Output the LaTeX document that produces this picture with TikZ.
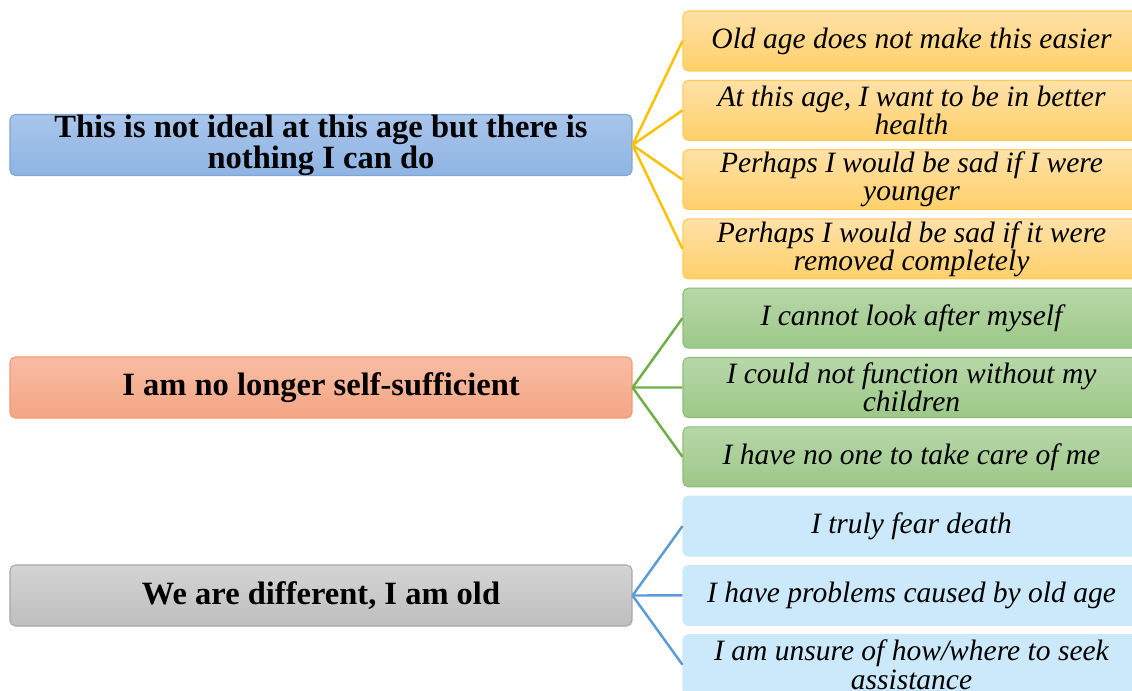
\documentclass[tikz,border=0pt]{standalone}
\usepackage{fontspec}
\setmainfont{Liberation Serif}
\usetikzlibrary{positioning}

\definecolor{themeblueA}{HTML}{A9C5EB}
\definecolor{themeblueB}{HTML}{8EB4E3}
\definecolor{themeblueD}{HTML}{7FA6D6}
\definecolor{salmonA}{HTML}{F8BDA5}
\definecolor{salmonB}{HTML}{F4A583}
\definecolor{salmonD}{HTML}{F19A74}
\definecolor{greyA}{HTML}{D4D4D4}
\definecolor{greyB}{HTML}{BEBEBE}
\definecolor{greyD}{HTML}{A8A8A8}
\definecolor{yellowA}{HTML}{FFE1A8}
\definecolor{yellowB}{HTML}{FFD06A}
\definecolor{yellowD}{HTML}{FFCC55}
\definecolor{greenA}{HTML}{B7D7A8}
\definecolor{greenB}{HTML}{9DC888}
\definecolor{greenD}{HTML}{8DBE78}
\definecolor{skyfill}{HTML}{CCE9FC}
\definecolor{yellowline}{HTML}{FFC000}
\definecolor{greenline}{HTML}{70AD47}
\definecolor{blueline}{HTML}{5B9BD5}

\begin{document}
\begin{tikzpicture}[node distance = 1.386cm,
  theme/.style = {rectangle, rounded corners=3pt, minimum width=12.44cm, minimum height=1.22cm,
    inner sep=0pt, align=center, line width=0.6pt, font=\bfseries\fontsize{18.5}{17.5}\selectfont},
  quote/.style = {rectangle, rounded corners=3pt, minimum width=9.14cm, minimum height=1.2cm,
    inner sep=0pt, align=center, line width=0.6pt, font=\itshape\fontsize{16.8}{16}\selectfont},
  yquote/.style = {quote, draw=yellowD, top color=yellowA, bottom color=yellowB},
  gquote/.style = {quote, draw=greenD, top color=greenA, bottom color=greenB},
  bquote/.style = {quote, draw=skyfill, fill=skyfill},
  link/.style = {line width=1.4pt}]

  \useasboundingbox (0,0) rectangle (22.64,-13.8);

  % themes on the left
  \node[theme, draw=themeblueD, top color=themeblueA, bottom color=themeblueB] at (6.42,-2.9) (ideal)
  {This is not ideal at this age but there is\\ nothing I can do};
  \node[theme, draw=salmonD, top color=salmonA, bottom color=salmonB] at (6.42,-7.75) (selfsuff)
  {I am no longer self-sufficient};
  \node[theme, draw=greyD, top color=greyA, bottom color=greyB] at (6.42,-11.91) (different)
  {We are different, I am old};

  % quotes on the right
  \node[yquote] at (18.23,-0.82) (easier) {Old age does not make this easier};
  \node[yquote, below of = easier] (health) {At this age, I want to be in better\\ health};
  \node[yquote, below of = health] (younger) {Perhaps I would be sad if I were\\ younger};
  \node[yquote, below of = younger] (removed) {Perhaps I would be sad if it were\\ removed completely};

  \node[gquote, below of = removed] (myself) {I cannot look after myself};
  \node[gquote, below of = myself] (children) {I could not function without my\\ children};
  \node[gquote, below of = children] (care) {I have no one to take care of me};

  \node[bquote, below of = care] (death) {I truly fear death};
  \node[bquote, below of = death] (problems) {I have problems caused by old age};
  \node[bquote, below of = problems] (assist) {I am unsure of how/where to seek\\ assistance};

  \draw[link, yellowline] (ideal.east)--(easier.west);
  \draw[link, yellowline] (ideal.east)--(health.west);
  \draw[link, yellowline] (ideal.east)--(younger.west);
  \draw[link, yellowline] (ideal.east)--(removed.west);

  \draw[link, greenline] (selfsuff.east)--(myself.west);
  \draw[link, greenline] (selfsuff.east)--(children.west);
  \draw[link, greenline] (selfsuff.east)--(care.west);

  \draw[link, blueline] (different.east)--(death.west);
  \draw[link, blueline] (different.east)--(problems.west);
  \draw[link, blueline] (different.east)--(assist.west);

\end{tikzpicture}
\end{document}
